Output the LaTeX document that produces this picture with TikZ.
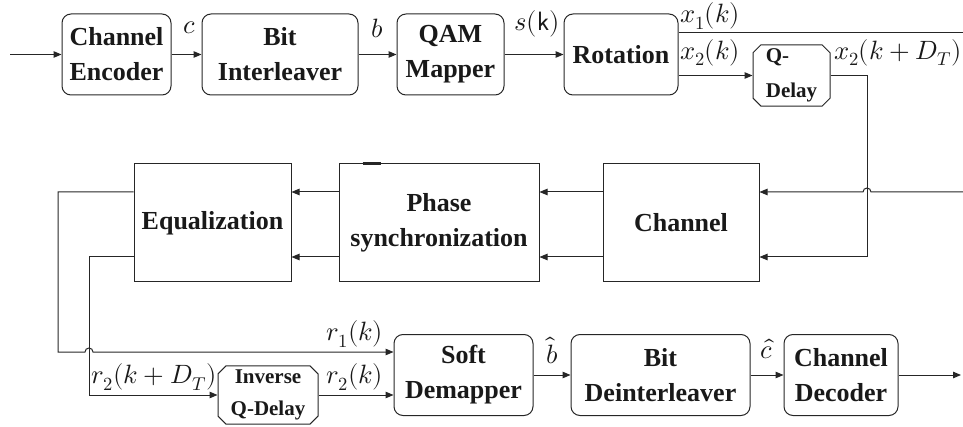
\documentclass[tikz,border=0pt]{standalone}
\usepackage{fontspec}
\usepackage{unicode-math}
\setmainfont{Liberation Serif}
\setmathfont{Latin Modern Math}
\usetikzlibrary{arrows.meta,shapes.misc}

\tikzset{
  block/.style={draw=black!85, line width=1pt, rounded corners=9pt, minimum height=81pt,
    inner sep=2pt, align=center, text=black!90, font=\fontsize{26}{35}\selectfont\bfseries},
  sqblock/.style={block, rounded corners=0pt, minimum height=118pt},
  dlybox/.style={draw=black!85, line width=1pt, chamfered rectangle, chamfered rectangle xsep=4pt,
    chamfered rectangle ysep=4pt, inner sep=0pt, text=black!90},
  sig/.style={draw=black!85, line width=1pt, -{Triangle[length=8pt,width=6.5pt]}},
  wire/.style={draw=black!85, line width=1pt},
  lbl/.style={inner sep=0pt, text=black!90, font=\fontsize{26.5}{30}\selectfont},
}

\begin{document}
\begin{tikzpicture}[x=1pt,y=-1pt]
  \useasboundingbox (0,0) rectangle (963,427);

  %%%%% transmitter %%%%%
  \node[block, minimum width=109pt] (enc) at (116.5,54.5) {Channel\\Encoder};
  \node[block, minimum width=156pt] (intl) at (280,54.5) {Bit\\Interleaver};
  \node[block, minimum width=107pt] (map) at (450.5,54.5) {QAM\\Mapper};
  \node[block, minimum width=114pt] (rot) at (621,54.5) {Rotation};
  \node[dlybox, minimum width=77pt, minimum height=57pt, align=left,
        font=\fontsize{21}{35}\selectfont\bfseries] (qd) at (791.5,75.5) {Q-\\Delay};

  %%%%% channel and receiver front end %%%%%
  \node[sqblock, minimum width=157pt] (eq) at (212.5,223) {Equalization};
  \node[sqblock, minimum width=200pt] (sync) at (439,223) {Phase\\synchronization};
  \node[sqblock, minimum width=156pt] (chan) at (681,223) {Channel};

  %%%%% demapping and decoding %%%%%
  \node[dlybox, minimum width=100pt, minimum height=58pt, align=center,
        font=\fontsize{21}{32}\selectfont\bfseries] (iqd) at (268,395) {Inverse\\Q-Delay};
  \node[block, minimum width=139pt] (dem) at (463.5,375) {Soft\\Demapper};
  \node[block, minimum width=179pt] (deint) at (660.5,375) {Bit\\Deinterleaver};
  \node[block, minimum width=114pt] (dec) at (841,375) {Channel\\Decoder};

  \coordinate (src) at (10,54.5);
  \coordinate (sink) at (961,375);
  \coordinate (xone) at (963,33);
  \coordinate (xturn) at (867,257);
  \coordinate (cin) at (963,192);
  \coordinate (rowa) at (0,192);
  \coordinate (rowb) at (0,257);
  \coordinate (rone) at (58,352);
  \coordinate (rtwo) at (89,395);

  % top chain
  \draw[sig] (src) -- (enc);
  \draw[sig] (enc) -- node[lbl, above=20pt, xshift=3pt] {$c$} (intl);
  \draw[sig] (intl) -- node[lbl, above=16pt] {$b$} (map);
  \draw[sig] (map) -- node[lbl, above=16.5pt, xshift=3pt] {$s(\mathsf{k})$} (rot);
  \draw[wire] (rot.east|-xone) node[lbl, anchor=south west, xshift=1pt, yshift=3pt] {$x_1(k)$} -- (xone);
  \draw[sig] (rot.east|-qd.west) node[lbl, anchor=south west, xshift=1pt, yshift=9pt] {$x_2(k)$} -- (qd.west);
  \draw[sig] (qd.east) node[lbl, anchor=south west, xshift=3pt, yshift=9pt] {$x_2(k+D_T)$} -| (xturn) -- (chan.east|-xturn);
  \draw[sig] (cin) -- ([xshift=4pt]xturn|-cin) arc[start angle=0, end angle=180, radius=4pt] -- (chan.east|-cin);

  % middle row, right to left
  \draw[sig] (chan.west|-rowa) -- (sync.east|-rowa);
  \draw[sig] (chan.west|-rowb) -- (sync.east|-rowb);
  \draw[sig] (sync.west|-rowa) -- (eq.east|-rowa);
  \draw[sig] (sync.west|-rowb) -- (eq.east|-rowb);
  \draw[line width=2.5pt, black!85] ([xshift=24pt]sync.north west) -- ([xshift=42pt]sync.north west);

  % back down to the demapper
  \draw[sig] (eq.west|-rowa) -| (rone) -- ([xshift=-4pt]rtwo|-rone) arc[start angle=180, end angle=0, radius=4pt]
    -- (dem.west|-rone) node[lbl, anchor=south east, xshift=-10pt, yshift=4pt] {$r_1(k)$};
  \draw[sig] (eq.west|-rowb) -| (rtwo) node[lbl, anchor=south west, xshift=2pt, yshift=4pt] {$r_2(k+D_T)$} -- (iqd.west);
  \draw[sig] (iqd.east) -- (dem.west|-iqd.east) node[lbl, anchor=south east, xshift=-10pt, yshift=4pt] {$r_2(k)$};

  % bottom chain
  \draw[sig] (dem) -- node[lbl, above=11pt] {$\hat{b}$} (deint);
  \draw[sig] (deint) -- node[lbl, above=16pt] {$\hat{c}$} (dec);
  \draw[sig] (dec) -- (sink);
\end{tikzpicture}
\end{document}
